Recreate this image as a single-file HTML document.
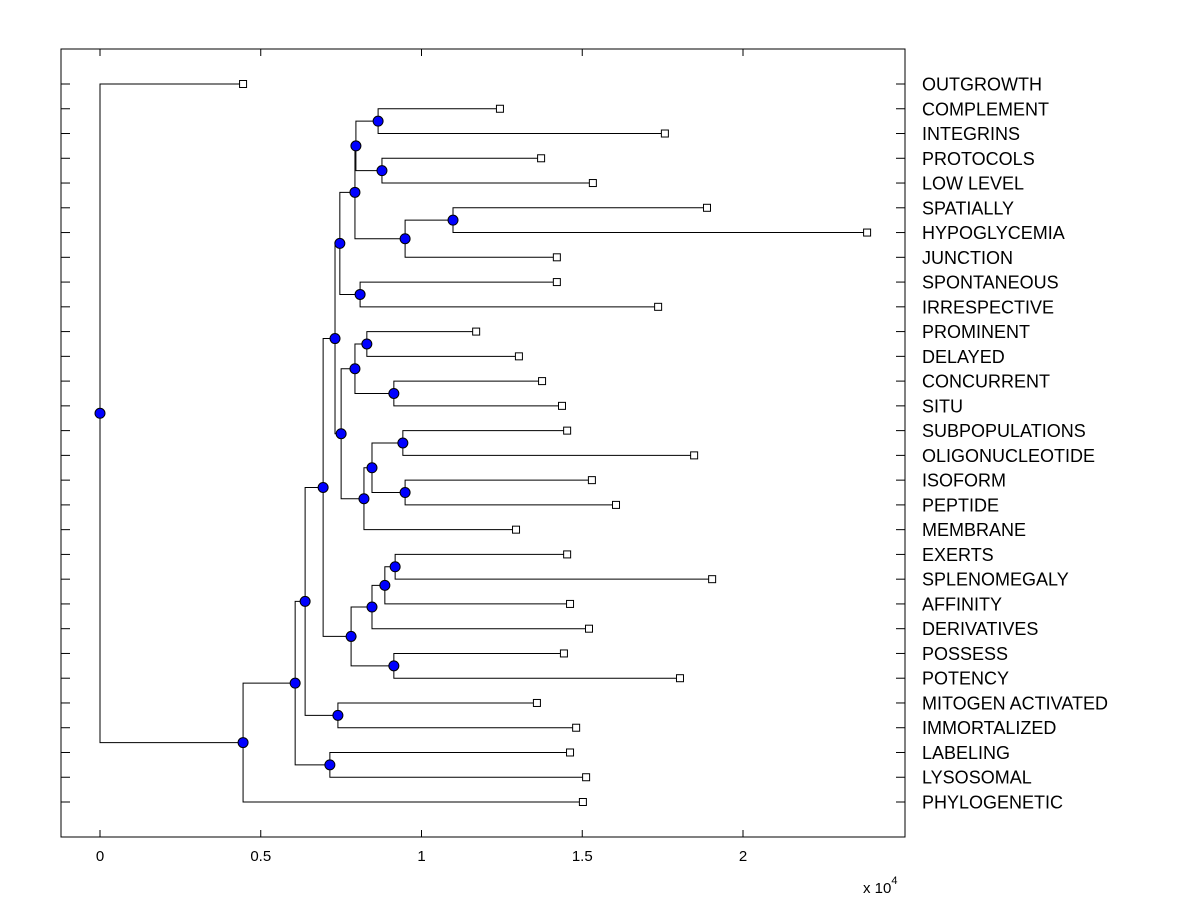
<!DOCTYPE html>
<html><head><meta charset="utf-8"><style>
body{margin:0;background:#fff;}
svg{display:block;font-family:"Liberation Sans",Arial,sans-serif;}
</style></head><body>
<svg id="chart" width="1200" height="900" xmlns="http://www.w3.org/2000/svg">
<rect width="1200" height="900" fill="#fff"/>
<g id="plot"></g>
</svg>
<script>
// leaf names (top to bottom) and leaf heights (x 1e4)
const leafNames=["OUTGROWTH","COMPLEMENT","INTEGRINS","PROTOCOLS","LOW LEVEL","SPATIALLY","HYPOGLYCEMIA","JUNCTION","SPONTANEOUS","IRRESPECTIVE","PROMINENT","DELAYED","CONCURRENT","SITU","SUBPOPULATIONS","OLIGONUCLEOTIDE","ISOFORM","PEPTIDE","MEMBRANE","EXERTS","SPLENOMEGALY","AFFINITY","DERIVATIVES","POSSESS","POTENCY","MITOGEN ACTIVATED","IMMORTALIZED","LABELING","LYSOSOMAL","PHYLOGENETIC"];
const leafHeights=[0.445,1.244,1.757,1.372,1.533,1.888,2.386,1.421,1.421,1.736,1.170,1.303,1.375,1.437,1.453,1.848,1.530,1.605,1.294,1.453,1.904,1.462,1.521,1.443,1.804,1.359,1.481,1.462,1.512,1.502];
// internal nodes: [name, height, childA, childB]; children are leaf indices (numbers) or node names
const nodeNames=["AA","BB","X","Z","Y","V","W","M","Q","R","O","T","U","S","P","N","G","L","K","I","J","H","E","F","C","D","B","A","root"];
const nodeHeights=[0.865,0.877,0.796,1.098,0.949,0.793,0.809,0.746,0.830,0.914,0.793,0.942,0.949,0.846,0.821,0.750,0.731,0.918,0.886,0.846,0.914,0.781,0.694,0.740,0.638,0.715,0.607,0.445,0];
const nodeChildren=[[1,2],[3,4],["AA","BB"],[5,6],["Z",7],["X","Y"],[8,9],["V","W"],[10,11],[12,13],["Q","R"],[14,15],[16,17],["T","U"],["S",18],["O","P"],["M","N"],[19,20],["L",21],["K",22],[23,24],["I","J"],["G","H"],[25,26],["E","F"],[27,28],["C","D"],["B",29],[0,"A"]];
const xTicks=[0,0.5,1,1.5,2];

const L=61,R=905,T=49,B=837;
const xs=v=>100+v*321.5;
const ys=i=>84+i*(802-84)/29;
const g=document.getElementById('plot');
const NS="http://www.w3.org/2000/svg";
function mk(t,a){const e=document.createElementNS(NS,t);for(const k in a)e.setAttribute(k,a[k]);g.appendChild(e);return e;}

// axes
let ax=mk('rect',{x:L,y:T,width:R-L,height:B-T,fill:'none',stroke:'#000','stroke-width':1});


leafNames.forEach((n,i)=>{
  let t1=mk('line',{x1:L,x2:L+9,y1:ys(i),y2:ys(i),stroke:'#000'});
  
  
  let t2=mk('line',{x1:R-9,x2:R,y1:ys(i),y2:ys(i),stroke:'#000'});
  
  
  let tx=mk('text',{x:922,y:ys(i)+6.5,'font-size':18,fill:'#000'});
  tx.textContent=n;
  
  
});
xTicks.forEach(v=>{
  let t1=mk('line',{x1:xs(v),x2:xs(v),y1:B,y2:B-7,stroke:'#000'});
  
  
  let t2=mk('line',{x1:xs(v),x2:xs(v),y1:T,y2:T+7,stroke:'#000'});
  
  
  let tx=mk('text',{x:xs(v),y:861,'font-size':15,'text-anchor':'middle'});
  tx.textContent=String(v);
  
  
});
let ex=mk('text',{x:863,y:893,'font-size':15});
ex.innerHTML='x 10<tspan dy="-9" font-size="11">4</tspan>';



// compute node positions
const pos={};
leafNames.forEach((n,i)=>{pos[i]={x:leafHeights[i],y:ys(i)};});
nodeNames.forEach((n,k)=>{
  const [a,b]=nodeChildren[k];
  pos[n]={x:nodeHeights[k],y:(pos[a].y+pos[b].y)/2};
});
// branches
nodeNames.forEach((n,k)=>{
  const p=pos[n];const [a,b]=nodeChildren[k];
  const pa=pos[a],pb=pos[b];
  let path=mk('path',{d:`M${xs(pa.x)},${pa.y}H${xs(p.x)}V${pb.y}H${xs(pb.x)}`,fill:'none',stroke:'#000','stroke-width':1});
  
  
});
// leaves
leafNames.forEach((n,i)=>{
  let r=mk('rect',{x:xs(leafHeights[i])-3.5,y:ys(i)-3.5,width:7,height:7,fill:'#fff',stroke:'#000'});
  
  
});
// nodes
nodeNames.forEach(n=>{
  let c=mk('circle',{cx:xs(pos[n].x),cy:pos[n].y,r:5,fill:'#0000ff',stroke:'#000','stroke-width':1});
  
  
});
</script>
</body></html>
